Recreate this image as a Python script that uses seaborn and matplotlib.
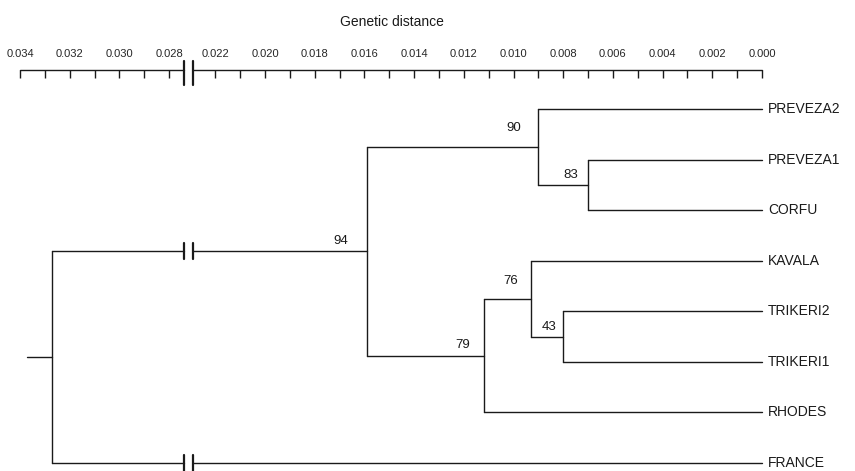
import numpy as np
import pandas as pd
import matplotlib
matplotlib.use("Agg")
import matplotlib.pyplot as plt
import seaborn as sns

sns.set_style("white")
plt.rcParams["font.family"] = ["Liberation Sans", "DejaVu Sans"]

# leaves, top to bottom
leaves = ["PREVEZA2", "PREVEZA1", "CORFU", "KAVALA", "TRIKERI2", "TRIKERI1", "RHODES", "FRANCE"]

# internal nodes (children joined at a genetic distance, with bootstrap support)
node_names = ["n83", "n90", "n43", "n76", "n79", "n94", "root"]
node_children = [("PREVEZA1", "CORFU"), ("PREVEZA2", "n83"), ("TRIKERI2", "TRIKERI1"),
                 ("KAVALA", "n43"), ("n76", "RHODES"), ("n90", "n79"), ("n94", "FRANCE")]
node_height = [0.0070, 0.0090, 0.0080, 0.0093, 0.0112, 0.0159, 0.0327]
node_boot = [83, 90, 43, 76, 79, 94, None]
root_stub = 0.0337

# scale bar
scale_ticks_left = [0.034, 0.033, 0.032, 0.031, 0.030, 0.029, 0.028]
scale_ticks_right = [0.022, 0.021, 0.020, 0.019, 0.018, 0.017, 0.016, 0.015, 0.014, 0.013, 0.012,
                     0.011, 0.010, 0.009, 0.008, 0.007, 0.006, 0.005, 0.004, 0.003, 0.002, 0.001, 0.000]
scale_labels_left = ["0.034", "0.032", "0.030", "0.028"]
scale_labels_right = ["0.022", "0.020", "0.018", "0.016", "0.014", "0.012", "0.010",
                      "0.008", "0.006", "0.004", "0.002", "0.000"]
axis_break = (0.0229, 0.0274)

# --- broken distance axis as a function scale ---
lo, hi = axis_break
squeeze = 0.08
u_hi = lo + (hi - lo) * squeeze


def fwd(d):
    d = np.asarray(d, float)
    return np.where(d <= lo, d, np.where(d >= hi, d - (hi - lo) * (1 - squeeze), lo + (d - lo) * squeeze))


def inv(u):
    u = np.asarray(u, float)
    return np.where(u <= lo, u, np.where(u >= u_hi, u + (hi - lo) * (1 - squeeze), lo + (u - lo) / squeeze))


# --- tree layout ---
ypos = {name: i for i, name in enumerate(leaves)}
height = {name: 0.0 for name in leaves}
for name, (a, b), h in zip(node_names, node_children, node_height):
    ypos[name] = (ypos[a] + ypos[b]) / 2
    height[name] = h

rows = []
breaks = []
seg = 0
for name, (a, b), h in zip(node_names, node_children, node_height):
    rows += [(seg, h, ypos[a]), (seg, h, ypos[b])]
    seg += 1
    for c in (a, b):
        if h > hi and height[c] < lo:
            rows += [(seg, h, ypos[c]), (seg, hi, ypos[c])]
            seg += 1
            rows += [(seg, lo, ypos[c]), (seg, height[c], ypos[c])]
            seg += 1
            breaks.append(ypos[c])
        else:
            rows += [(seg, h, ypos[c]), (seg, height[c], ypos[c])]
            seg += 1
rows += [(seg, root_stub, ypos["root"]), (seg, height["root"], ypos["root"])]
tree = pd.DataFrame(rows, columns=["seg", "dist", "y"])

fig = plt.figure(figsize=(8.55, 4.71), dpi=100)
W, H = 855, 471

ax = fig.add_axes([20 / W, 0.4 / H, 742 / W, 371.7 / H])
sns.lineplot(data=tree, x="dist", y="y", units="seg", estimator=None, sort=False,
             color="#1a1a1a", lw=1.0, ax=ax)
for by in breaks:
    for bx in (lo, hi):
        ax.plot([bx, bx], [by - 0.16, by + 0.16], color="#1a1a1a", lw=1.6)
for ln in ax.lines:
    ln.set_clip_on(False)
ax.set_xscale("function", functions=(fwd, inv))
ax.set_xlim(0.034, 0.0)
ax.set_ylim(7.15, -0.2)
ax.axis("off")

for name in leaves:
    ax.annotate(name, (0.0, ypos[name]), xytext=(6, 0), textcoords="offset pixels",
                ha="left", va="center", fontsize=10, color="#1a1a1a")

label_offset = {94: (-19, 4), 90: (-17, 13), 83: (-10, 4), 79: (-14, 5), 76: (-13, 12), 43: (-7, 4)}
for name, b in zip(node_names, node_boot):
    if b is None:
        continue
    ax.annotate(str(b), (height[name], ypos[name]), xytext=label_offset[b], textcoords="offset pixels",
                ha="right", va="bottom", fontsize=9.5, color="#1a1a1a")

# --- scale bar ---
axs = fig.add_axes([20 / W, 1 - 90 / H, 742 / W, 20 / H])
scale = pd.DataFrame({"seg": [0, 0, 1, 1],
                      "dist": [scale_ticks_left[0], hi, lo, scale_ticks_right[-1]],
                      "y": [0, 0, 0, 0]})
sns.lineplot(data=scale, x="dist", y="y", units="seg", estimator=None, sort=False,
             color="#1a1a1a", lw=1.0, ax=axs)
for bx in (lo, hi):
    axs.plot([bx, bx], [-0.45, 0.75], color="#1a1a1a", lw=1.6)
for ln in axs.lines:
    ln.set_clip_on(False)
axs.set_xscale("function", functions=(fwd, inv))
axs.set_xlim(0.034, 0.0)
axs.set_ylim(1, 0)
for sp in axs.spines.values():
    sp.set_visible(False)
major = [float(s) for s in scale_labels_left + scale_labels_right]
minor = [t for t in scale_ticks_left + scale_ticks_right if not any(abs(t - m) < 1e-9 for m in major)]
axs.set_xticks(major, labels=scale_labels_left + scale_labels_right)
axs.set_xticks(minor, minor=True)
axs.set_yticks([])
axs.xaxis.set_ticks_position("top")
axs.tick_params(axis="x", which="both", direction="in", length=5.8, width=1.0, color="#1a1a1a",
                pad=8, labelsize=8, top=True, bottom=False, labeltop=True, labelbottom=False)
axs.set_xlabel("")
axs.set_ylabel("")

fig.text(392 / W, 1 - 22 / H, "Genetic distance", ha="center", va="center", fontsize=10, color="#1a1a1a")

fig.savefig("out.png", dpi=100, facecolor="white")
